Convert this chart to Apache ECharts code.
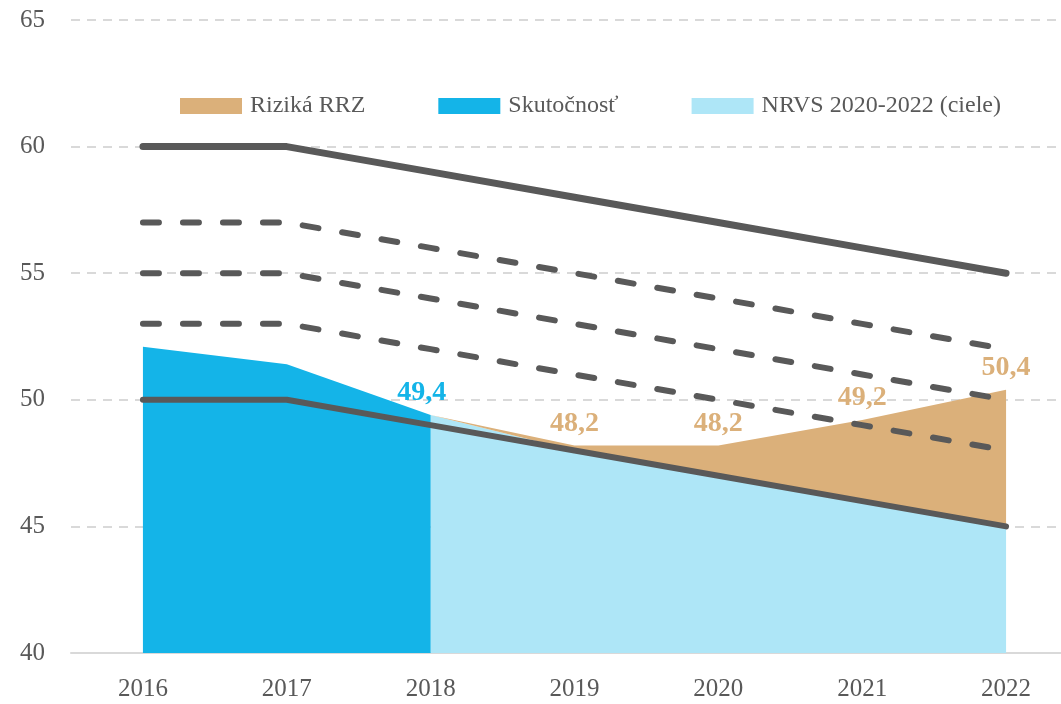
<!DOCTYPE html>
<html>
<head>
<meta charset="utf-8">
<script src="https://cdn.jsdelivr.net/npm/echarts@6/dist/echarts.min.js"></script>
<style>
  html, body { margin: 0; padding: 0; background: #fff; overflow: hidden; }
  #chart { width: 1078px; height: 704px; }
</style>
</head>
<body>
<div id="chart"></div>
<script>
// data
const years = ["2016", "2017", "2018", "2019", "2020", "2021", "2022"];
const yTicks = [40, 45, 50, 55, 60, 65];
const actual = [52.1, 51.4, 49.4, null, null, null, null];          // Skutočnosť
const nrvs = [null, null, 49.4, 48, 47, 46, 45];                     // NRVS 2020-2022 (ciele)
const rrzTop = [null, null, 49.4, 48.2, 48.2, 49.2, 50.4];           // Riziká RRZ (upper edge)
const lineTop = [60, 60, 59, 58, 57, 56, 55];
const dash1 = [57, 57, 56, 55, 54, 53, 52];
const dash2 = [55, 55, 54, 53, 52, 51, 50];
const dash3 = [53, 53, 52, 51, 50, 49, 48];
const lineBottom = [50, 50, 49, 48, 47, 46, 45];

// tan band = gap between NRVS and RRZ top
const rrzBand = rrzTop.map((v, i) => (v == null ? null : +(v - nrvs[i]).toFixed(1)));
const comma = v => v.toFixed(1).replace(".", ",");

const FONT = "Liberation Serif";
const GREY = "#595959";
const TAN = "#dbb07a";
const BLUE = "#14b4e8";
const LIGHT = "#aee6f7";

// plot runs past the right edge of the window, like the original crop
const chart = echarts.init(document.getElementById("chart"));

function line(name, data, width, dashed) {
  return {
    name: name,
    type: "line",
    data: data,
    symbol: "none",
    silent: true,
    z: 5,
    lineStyle: {
      color: GREY,
      width: width,
      type: dashed ? [16, 24] : "solid",
      cap: "round"
    }
  };
}

chart.setOption({
  animation: false,
  grid: { left: 71, right: 0, top: 20, bottom: 51 },
  legend: {
    top: 89,
    left: 175,
    icon: "rect",
    itemWidth: 62,
    itemHeight: 16,
    itemGap: 73,
    data: ["Riziká RRZ", "Skutočnosť", "NRVS 2020-2022 (ciele)"],
    textStyle: { fontFamily: FONT, fontSize: 24, color: GREY, padding: [0, 0, 0, 3] }
  },
  xAxis: {
    type: "category",
    data: years,
    boundaryGap: true,
    axisLine: { lineStyle: { color: "#d9d9d9", width: 2 } },
    axisTick: { show: false },
    axisLabel: { fontFamily: FONT, fontSize: 25, color: GREY, margin: 24 }
  },
  yAxis: {
    type: "value",
    min: yTicks[0],
    max: yTicks[yTicks.length - 1],
    interval: 5,
    axisLine: { show: false },
    axisTick: { show: false },
    axisLabel: { fontFamily: FONT, fontSize: 25, color: GREY, margin: 26 },
    splitLine: { lineStyle: { color: "#d9d9d9", width: 2, type: [9, 7] } }
  },
  series: [
    {
      name: "NRVS 2020-2022 (ciele)",
      type: "line",
      stack: "r",
      data: nrvs,
      symbol: "none",
      lineStyle: { width: 0 },
      areaStyle: { color: LIGHT, opacity: 1 },
      itemStyle: { color: LIGHT },
      z: 2
    },
    {
      name: "Riziká RRZ",
      type: "line",
      stack: "r",
      data: rrzBand,
      symbol: "circle",
      symbolSize: 0,
      showSymbol: true,
      lineStyle: { width: 0 },
      areaStyle: { color: TAN, opacity: 1 },
      itemStyle: { color: TAN },
      label: {
        show: true,
        position: "top",
        distance: 8,
        fontFamily: FONT,
        fontSize: 28,
        fontWeight: "bold",
        color: TAN,
        formatter: p => (p.dataIndex > 2 ? comma(rrzTop[p.dataIndex]) : "")
      },
      z: 2
    },
    {
      name: "Skutočnosť",
      type: "line",
      data: actual,
      symbol: "circle",
      symbolSize: 0,
      showSymbol: true,
      lineStyle: { width: 0 },
      areaStyle: { color: BLUE, opacity: 1 },
      itemStyle: { color: BLUE },
      label: {
        show: true,
        position: "top",
        distance: 8,
        offset: [-9, 0],
        fontFamily: FONT,
        fontSize: 28,
        fontWeight: "bold",
        color: BLUE,
        formatter: p => (p.dataIndex === 2 ? comma(actual[2]) : "")
      },
      z: 3
    },
    line("top", lineTop, 7, false),
    line("d1", dash1, 6, true),
    line("d2", dash2, 6, true),
    line("d3", dash3, 6, true),
    line("bottom", lineBottom, 6, false)
  ]
});
</script>
</body>
</html>
